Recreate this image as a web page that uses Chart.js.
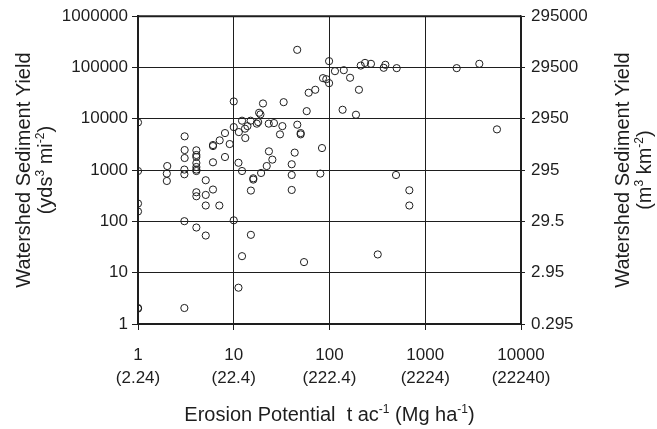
<!DOCTYPE html>
<html>
<head>
<meta charset="utf-8">
<script src="https://cdn.jsdelivr.net/npm/chart.js@4.4.0/dist/chart.umd.min.js"></script>
<style>
  body { margin: 0; background: #fff; }
  #wrap { width: 657px; height: 429px; position: relative; }
</style>
</head>
<body>
<div id="wrap"><canvas id="chart"></canvas></div>
<script>
// erosion potential (t/ac) and watershed sediment yield (yds3/mi2)
const erosion = [
  46, 99, 85.5, 92.6, 99, 60.6, 71, 10, 20.2, 33.2, 57.8, 18.4, 19, 1, 12.2, 15, 18, 17.4,
  13.9, 13.1, 10, 11.3, 13.2, 23.2, 26.3, 32.2, 30.4, 46.1, 50, 50, 83.5, 43.3, 40.3, 8.1,
  7.13, 9.07, 6.07, 6.07, 3.07, 3.07, 3.07, 4.07, 4.07, 4.07, 8.1, 23.3, 25.3, 22.1, 6.07,
  2.02, 11.2, 2, 2, 3.05, 3.05, 4.07, 4.07, 4.07, 4.07, 1, 5.1, 6.07, 4.07, 4.07, 5.1, 5.1,
  7.07, 1, 1, 3.05, 4.07, 5.1, 10, 12.2, 16, 16, 19.3, 15.1, 15.1, 12.2, 11.2, 40.3, 40.3,
  80.2, 54.2, 1, 1, 3.05, 114, 141, 164, 203, 137, 189, 212, 235, 271, 368, 383, 503, 2130,
  3670, 5610, 495, 682, 682, 319
];
const sedimentYield = [
  221000, 133000, 62000, 59200, 49500, 32200, 36800, 21800, 19900, 21100, 14100, 13100, 12200,
  8500, 9180, 9180, 8630, 8040, 7200, 6420, 6900, 5510, 4220, 8040, 8260, 7200, 4970, 7680,
  5270, 4970, 2690, 2190, 1300, 5270, 3800, 3220, 3080, 2940, 4550, 2460, 1720, 2430, 1970,
  1800, 1800, 2320, 1600, 1200, 1420, 1200, 1390, 855, 614, 1023, 829, 1375, 1150, 1023, 960,
  960, 634, 418, 370, 309, 328, 204, 204, 223, 156, 101, 76, 53, 105, 960, 692, 653, 879, 399,
  54.7, 21, 5.1, 803, 410, 855, 16.1, 2.05, 2, 2.05, 84800, 88700, 63100, 36800, 15000, 12000,
  109000, 123000, 118000, 98700, 113000, 97200, 97200, 118000, 6220, 803, 404, 204, 22.7
];

const xTicks = [1, 10, 100, 1000, 10000];
const xTickLabels = [['1', '(2.24)'], ['10', '(22.4)'], ['100', '(222.4)'], ['1000', '(2224)'], ['10000', '(22240)']];
const yTicks = [1, 10, 100, 1000, 10000, 100000, 1000000];
const yTickLabels = ['1', '10', '100', '1000', '10000', '100000', '1000000'];
const y2Ticks = [0.295, 2.95, 29.5, 295, 2950, 29500, 295000];
const y2TickLabels = ['0.295', '2.95', '29.5', '295', '2950', '29500', '295000'];

const FONT = '"Liberation Sans", Arial, sans-serif';
const INK = '#1e1e1e';

// draws text made of [string, isSuperscript] parts, centred on x,y
function drawRich(ctx, parts, x, y, size) {
  const supSize = Math.round(size * 0.62);
  let total = 0;
  parts.forEach(p => {
    ctx.font = (p[1] ? supSize : size) + 'px ' + FONT;
    total += ctx.measureText(p[0]).width;
  });
  let cx = x - total / 2;
  parts.forEach(p => {
    ctx.font = (p[1] ? supSize : size) + 'px ' + FONT;
    ctx.fillText(p[0], cx, p[1] ? y - size * 0.38 : y);
    cx += ctx.measureText(p[0]).width;
  });
}

const titles = {
  id: 'titles',
  afterDraw(chart) {
    const ctx = chart.ctx;
    const a = chart.chartArea;
    const midY = (a.top + a.bottom) / 2;
    ctx.save();
    ctx.fillStyle = INK;
    ctx.textBaseline = 'alphabetic';
    ctx.textAlign = 'left';

    // frame top + right
    ctx.strokeStyle = INK;
    ctx.lineWidth = 2;
    ctx.beginPath();
    ctx.moveTo(a.left, a.top);
    ctx.lineTo(a.right, a.top);
    ctx.stroke();

    drawRich(ctx, [['Erosion Potential  t ac', false], ['-1', true], [' (Mg ha', false], ['-1', true], [')', false]],
      (a.left + a.right) / 2, 421, 20);

    ctx.save();
    ctx.translate(30, midY);
    ctx.rotate(-Math.PI / 2);
    drawRich(ctx, [['Watershed Sediment Yield', false]], 0, 0, 20);
    ctx.translate(0, 22);
    drawRich(ctx, [['(yds', false], ['3', true], [' mi', false], ['-2', true], [')', false]], 0, 0, 20);
    ctx.restore();

    ctx.save();
    ctx.translate(629, midY);
    ctx.rotate(-Math.PI / 2);
    drawRich(ctx, [['Watershed Sediment Yield', false]], 0, 0, 20);
    ctx.translate(0, 22);
    drawRich(ctx, [['(m', false], ['3', true], [' km', false], ['-2', true], [')', false]], 0, 0, 20);
    ctx.restore();

    ctx.restore();
  }
};

function fixTicks(values) {
  return function (scale) {
    scale.ticks = values.map(v => ({ value: v }));
  };
}

new Chart(document.getElementById('chart'), {
  type: 'scatter',
  data: {
    datasets: [{
      data: erosion.map((x, i) => ({ x: x, y: sedimentYield[i] })),
      pointStyle: 'circle',
      pointRadius: 3.6,
      pointBorderWidth: 1,
      pointBorderColor: INK,
      pointBackgroundColor: 'rgba(0,0,0,0)',
      pointHoverRadius: 3.6
    }]
  },
  options: {
    responsive: true,
    maintainAspectRatio: false,
    animation: false,
    events: [],
    layout: { padding: { top: 16, left: 0, right: 0, bottom: 0 } },
    plugins: { legend: { display: false }, tooltip: { enabled: false } },
    scales: {
      x: {
        type: 'logarithmic',
        position: 'bottom',
        min: 1,
        max: 10000,
        afterBuildTicks: fixTicks(xTicks),
        afterFit(scale) { scale.height = 105; },
        border: { display: true, color: INK, width: 2 },
        grid: { color: INK, lineWidth: 1, tickLength: 6 },
        ticks: {
          color: INK,
          font: { family: FONT, size: 17, lineHeight: 1.35 },
          padding: 14,
          maxRotation: 0,
          autoSkip: false,
          callback: (v, i) => xTickLabels[i]
        }
      },
      y: {
        type: 'logarithmic',
        position: 'left',
        min: 1,
        max: 1000000,
        afterBuildTicks: fixTicks(yTicks),
        afterFit(scale) { scale.width = 138; },
        border: { display: true, color: INK, width: 2 },
        grid: { color: INK, lineWidth: 1, tickLength: 6 },
        ticks: {
          color: INK,
          font: { family: FONT, size: 17 },
          padding: 4,
          autoSkip: false,
          callback: (v, i) => yTickLabels[i]
        }
      },
      y2: {
        type: 'logarithmic',
        position: 'right',
        min: 0.295,
        max: 295000,
        afterBuildTicks: fixTicks(y2Ticks),
        afterFit(scale) { scale.width = 136; },
        border: { display: true, color: INK, width: 1.5 },
        grid: { drawOnChartArea: false, color: INK, tickLength: 4 },
        ticks: {
          color: INK,
          font: { family: FONT, size: 17 },
          padding: 6,
          autoSkip: false,
          callback: (v, i) => y2TickLabels[i]
        }
      }
    }
  },
  plugins: [titles]
});
</script>
</body>
</html>
